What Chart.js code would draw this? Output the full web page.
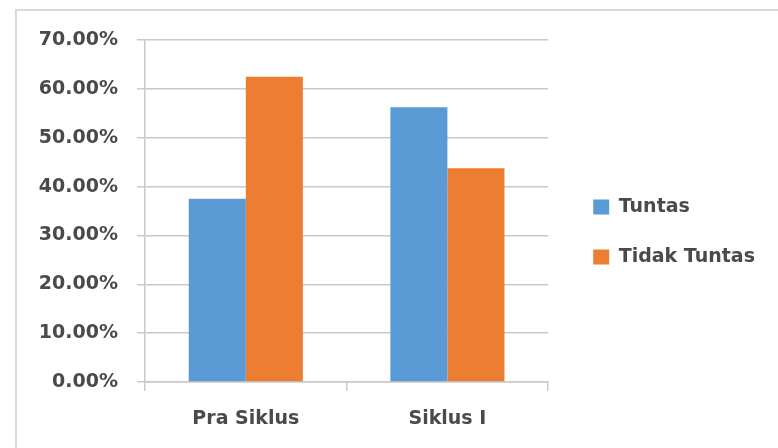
<!DOCTYPE html>
<html>
<head>
<meta charset="utf-8">
<script src="https://cdn.jsdelivr.net/npm/chart.js@4/dist/chart.umd.min.js"></script>
<style>
  html, body { margin: 0; padding: 0; background: #ffffff; overflow: hidden; }
  #c { display: block; }
</style>
</head>
<body>
<canvas id="c" width="778" height="448"></canvas>
<script>
const categories = ['Pra Siklus', 'Siklus I'];
const seriesNames = ['Tuntas', 'Tidak Tuntas'];
const tuntas = [37.5, 56.25];
const tidakTuntas = [62.5, 43.75];
const yTickValues = [0, 10, 20, 30, 40, 50, 60, 70];

const textColor = '#4a4a4a';
const gridColor = '#c9c9c9';
const fontFamily = '"DejaVu Sans", sans-serif';

const framePlugin = {
  id: 'frame',
  beforeDraw(chart) {
    const ctx = chart.ctx;
    ctx.save();
    ctx.strokeStyle = '#d9d9d9';
    ctx.lineWidth = 2;
    ctx.beginPath();
    ctx.moveTo(16, chart.height);
    ctx.lineTo(16, 10);
    ctx.lineTo(chart.width, 10);
    ctx.stroke();
    ctx.restore();
  }
};

new Chart(document.getElementById('c'), {
  type: 'bar',
  data: {
    labels: categories,
    datasets: [
      { label: seriesNames[0], data: tuntas, backgroundColor: '#5B9BD5', borderWidth: 0,
        barPercentage: 1, categoryPercentage: 0.566, yAxisID: 'y' },
      { label: seriesNames[1], data: tidakTuntas, backgroundColor: '#ED7D31', borderWidth: 0,
        barPercentage: 1, categoryPercentage: 0.566, yAxisID: 'y' }
    ]
  },
  plugins: [framePlugin],
  options: {
    responsive: false,
    animation: false,
    devicePixelRatio: 1,
    layout: { padding: { top: 40, left: 21, right: 13, bottom: 24 } },
    plugins: {
      tooltip: { enabled: false },
      legend: {
        position: 'right',
        maxWidth: 260,
        labels: {
          boxWidth: 16, boxHeight: 15, padding: 31,
          color: textColor,
          font: { family: fontFamily, size: 19, weight: 'bold' }
        }
      }
    },
    scales: {
      x: {
        offset: true,
        afterFit: (scale) => { scale.height = 42; },
        grid: { display: true, drawOnChartArea: false, drawTicks: true, tickLength: 9,
                color: gridColor, lineWidth: 1.5, offset: true },
        border: { display: true, color: gridColor, width: 1.5 },
        ticks: { color: textColor, padding: 17,
                 font: { family: fontFamily, size: 19, weight: 'bold', lineHeight: 1.2 } }
      },
      y: {
        min: 0, max: 70,
        afterBuildTicks: (scale) => { scale.ticks = yTickValues.map(v => ({ value: v })); },
        grid: { color: gridColor, lineWidth: 1.5, tickLength: 8 },
        border: { display: true, color: gridColor, width: 1.5 },
        ticks: { color: textColor, padding: 19,
                 font: { family: fontFamily, size: 19, weight: 'bold' },
                 callback: (v) => Number(v).toFixed(2) + '%' }
      },
      gap: {
        type: 'linear', position: 'right', display: true,
        grid: { display: false }, border: { display: false }, ticks: { display: false },
        afterFit: (scale) => { scale.width = 14; }
      }
    }
  }
});
</script>
</body>
</html>
